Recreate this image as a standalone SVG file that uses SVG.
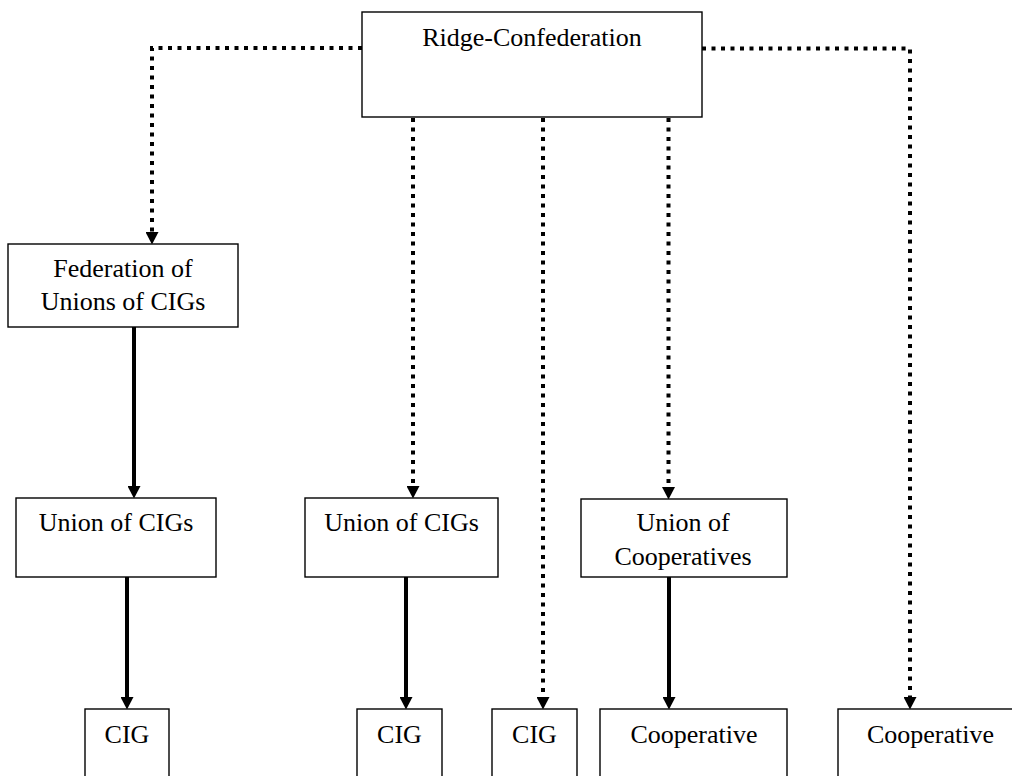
<svg xmlns="http://www.w3.org/2000/svg" width="1012" height="776" viewBox="0 0 1012 776">
  <style>
    .box { fill: #ffffff; stroke: #000000; stroke-width: 1.4; }
    .lbl { font-family: "Liberation Serif", "Times New Roman", serif; font-size: 26px; fill: #000000; text-anchor: middle; }
    .dot { fill: none; stroke: #000000; stroke-width: 4; stroke-dasharray: 4 5.5; stroke-linecap: butt; }
    .solid { fill: none; stroke: #000000; stroke-width: 4; }
  </style>
  <defs>
    <marker id="arr" markerUnits="userSpaceOnUse" markerWidth="13" markerHeight="13" refX="0" refY="6.5" orient="auto">
      <path d="M0,0 L12.5,6.5 L0,13 z" fill="#000000"/>
    </marker>
  </defs>
  <rect width="1012" height="776" fill="#ffffff"/>

  <g id="connectors">
    <path class="dot" d="M362,48 H152 V232" marker-end="url(#arr)"/>
    <path class="dot" d="M702,48.5 H910 V697" marker-end="url(#arr)"/>
    <path class="dot" d="M413,118 V486" marker-end="url(#arr)"/>
    <path class="dot" d="M543,118 V697" marker-end="url(#arr)"/>
    <path class="dot" d="M668.5,118 V487" marker-end="url(#arr)"/>
    <path class="solid" d="M134,327 V486" marker-end="url(#arr)"/>
    <path class="solid" d="M127,577 V697" marker-end="url(#arr)"/>
    <path class="solid" d="M406,577 V697" marker-end="url(#arr)"/>
    <path class="solid" d="M669,577 V697" marker-end="url(#arr)"/>
  </g>

  <g id="ridge">
    <rect class="box" x="362" y="12" width="340" height="105"/>
    <text class="lbl" x="532" y="46">Ridge-Confederation</text>
  </g>
  <g id="federation">
    <rect class="box" x="8" y="244" width="230" height="83"/>
    <text class="lbl" x="123" y="277">Federation of</text>
    <text class="lbl" x="123" y="310">Unions of CIGs</text>
  </g>
  <g id="union-cigs-1">
    <rect class="box" x="16" y="498" width="200" height="79"/>
    <text class="lbl" x="116" y="531">Union of CIGs</text>
  </g>
  <g id="union-cigs-2">
    <rect class="box" x="305" y="498" width="193" height="79"/>
    <text class="lbl" x="401.5" y="531">Union of CIGs</text>
  </g>
  <g id="union-coops">
    <rect class="box" x="581" y="499" width="206" height="78"/>
    <text class="lbl" x="683" y="531">Union of</text>
    <text class="lbl" x="683" y="565">Cooperatives</text>
  </g>
  <g id="cig-1">
    <rect class="box" x="85" y="709" width="84" height="90"/>
    <text class="lbl" x="127" y="743">CIG</text>
  </g>
  <g id="cig-2">
    <rect class="box" x="357" y="709" width="85" height="90"/>
    <text class="lbl" x="399.5" y="743">CIG</text>
  </g>
  <g id="cig-3">
    <rect class="box" x="492" y="709" width="85" height="90"/>
    <text class="lbl" x="534.5" y="743">CIG</text>
  </g>
  <g id="coop-1">
    <rect class="box" x="600" y="709" width="187" height="90"/>
    <text class="lbl" x="694" y="743">Cooperative</text>
  </g>
  <g id="coop-2">
    <rect class="box" x="838" y="709" width="190" height="90"/>
    <text class="lbl" x="930.5" y="743">Cooperative</text>
  </g>
</svg>
